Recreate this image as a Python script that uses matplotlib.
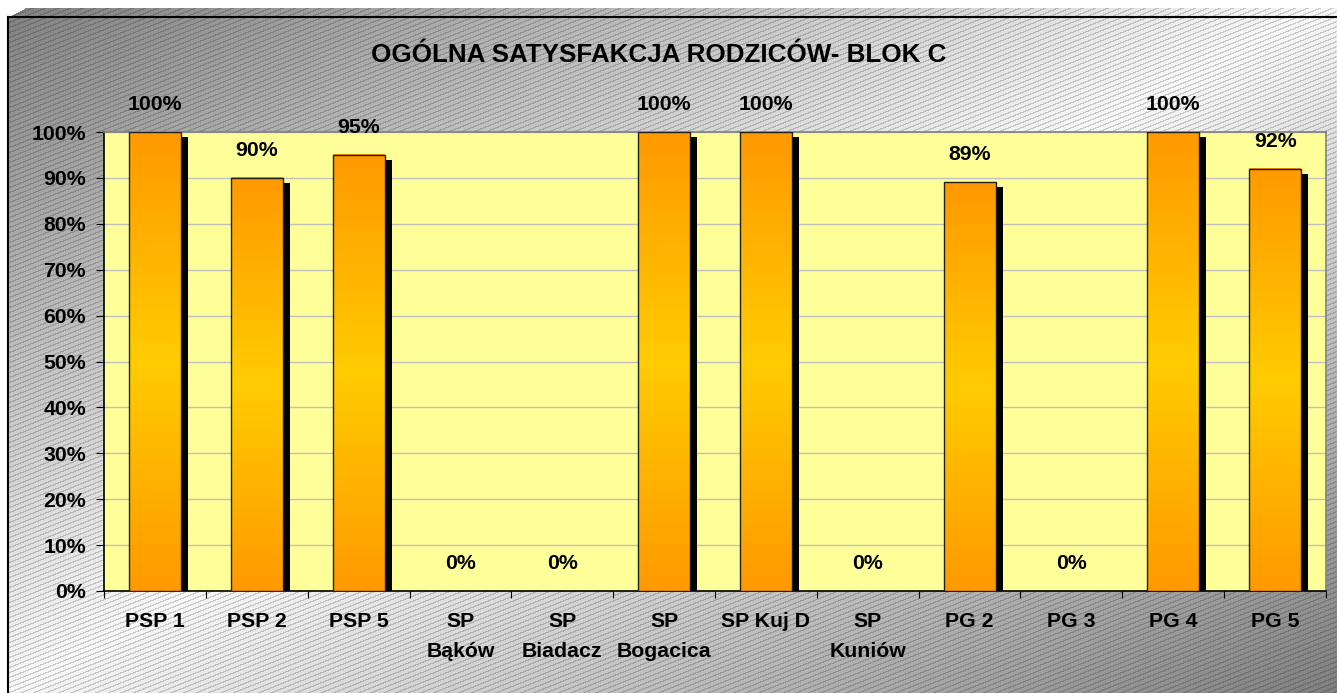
"""
    Ogólna satysfakcja rodziców - blok C
"""
import numpy as np
import matplotlib.pyplot as plt
from matplotlib.patches import Rectangle
from matplotlib.ticker import FuncFormatter

plt.rcParams['font.family'] = ['Liberation Sans', 'DejaVu Sans']

# dane
categories = ['PSP 1', 'PSP 2', 'PSP 5', 'SP\nBąków', 'SP\nBiadacz', 'SP\nBogacica',
              'SP Kuj D', 'SP\nKuniów', 'PG 2', 'PG 3', 'PG 4', 'PG 5']
values = [100, 90, 95, 0, 0, 100, 100, 0, 89, 0, 100, 92]
y_ticks = [0, 10, 20, 30, 40, 50, 60, 70, 80, 90, 100]
title = 'OGÓLNA SATYSFAKCJA RODZICÓW- BLOK C'

W, H = 1337, 693
fig = plt.figure(figsize=(W / 100, H / 100), dpi=100)

# tło: szary gradient po przekątnej + ukośne paski
bg = fig.add_axes([0, 0, 1, 1])
yy, xx = np.mgrid[0:H, 0:W]
t = np.abs(xx / W + yy / H - 1)
gray = 0.97 - 0.47 * t
stripes = ((yy + 0.4 * xx) % 5) < 1.3
gray = np.where(stripes, gray * 0.82, gray)
bevel = (yy >= 8) & (yy < 17) & (xx >= 8 + (17 - yy) * 17 / 9)
frame = (yy >= 17) & (xx >= 8)
gray = np.where(frame | bevel, gray, 1.0)
bg.imshow(gray, cmap='gray', vmin=0, vmax=1, extent=[0, W, H, 0], aspect='auto')
bg.plot([8, W], [17, 17], color='black', lw=1.5)
bg.plot([8, 8], [17, H], color='black', lw=1.5)
bg.set_xlim(0, W)
bg.set_ylim(H, 0)
bg.axis('off')

# tytuł
fig.text(659 / W, 1 - 55 / H, title, ha='center', va='center',
         fontsize=18.7, fontweight='bold')

# wykres
ax = fig.add_axes([104 / W, 1 - 591 / H, (1326 - 104) / W, (591 - 132) / H])
ax.set_facecolor('#FFFF99')
ax.set_axisbelow(True)
ax.yaxis.grid(True, color='#C0C0C0', lw=1)

x = np.arange(len(categories))
bw = 0.51
dx = 7 / 101.8
dy = 5 / 459 * 100

s = np.linspace(0, 1, 256)
f = 1 - np.abs(2 * s - 1)
grad = np.zeros((256, 1, 3))
grad[:, 0, 0] = 1.0
grad[:, 0, 1] = 0.6 + 0.2 * f
grad[:, 0, 2] = 0.0

fs = 15.3
for xi, v in zip(x, values):
    if v > 0:
        # cień
        ax.add_patch(Rectangle((xi - bw / 2 + dx, 0), bw, v - dy,
                               facecolor='black', edgecolor='none', zorder=2))
        # słupek z gradientem
        ax.imshow(grad, extent=[xi - bw / 2, xi + bw / 2, 0, v],
                  aspect='auto', zorder=3)
        ax.add_patch(Rectangle((xi - bw / 2, 0), bw, v, facecolor='none',
                               edgecolor='#202020', lw=1, zorder=4))
    ax.text(xi, v + 6, f'{v}%', ha='center', va='center', fontsize=fs,
            fontweight='bold', clip_on=False, zorder=5)

ax.set_xlim(-0.5, len(categories) - 0.5)
ax.set_ylim(0, 100)
ax.set_yticks(y_ticks)
ax.yaxis.set_major_formatter(FuncFormatter(lambda v, p: f'{v:.0f}%'))
ax.set_xticks(np.arange(len(categories) + 1) - 0.5)
ax.set_xticklabels([])
ax.set_xticks(x, categories, minor=True)
ax.tick_params(axis='x', which='major', length=5, direction='out')
ax.tick_params(axis='x', which='minor', length=0, pad=15)
ax.tick_params(axis='y', length=6, direction='out', pad=7)
for lab in ax.get_xticklabels(minor=True) + ax.get_yticklabels():
    lab.set_fontsize(fs)
    lab.set_fontweight('bold')
for lab in ax.get_xticklabels(minor=True):
    lab.set_linespacing(1.75)

ax.spines['left'].set_color('black')
ax.spines['bottom'].set_color('black')
ax.spines['top'].set_color('#808080')
ax.spines['right'].set_color('#808080')
for sp in ax.spines.values():
    sp.set_linewidth(1.2)

plt.savefig('out.png', dpi=100)
